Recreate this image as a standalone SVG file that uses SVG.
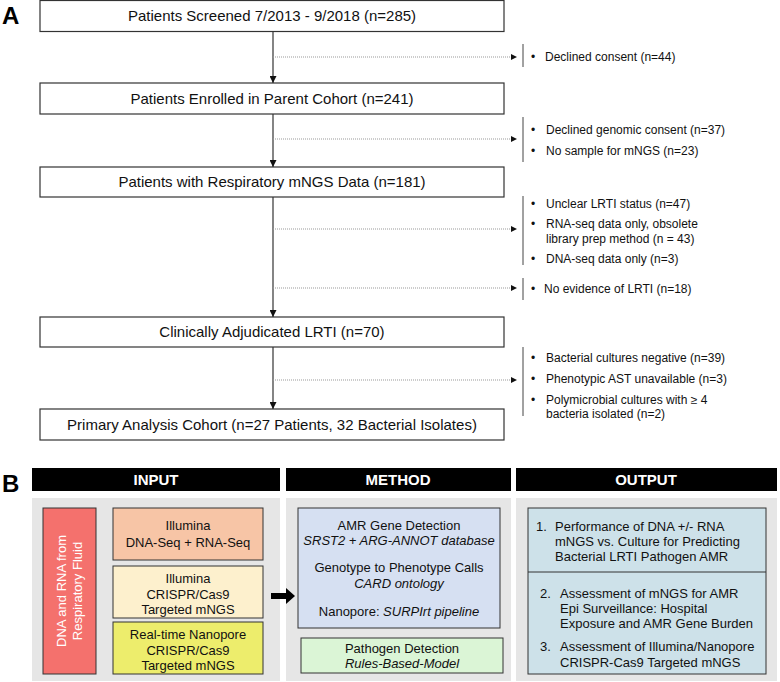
<svg xmlns="http://www.w3.org/2000/svg" width="780" height="682" viewBox="0 0 780 682">
<defs>
<style>
.box{fill:#fff;stroke:#333;stroke-width:1.2}
.bt{font-family:"Liberation Sans",Arial,sans-serif;font-size:15px;fill:#111;text-anchor:middle}
.ex{font-family:"Liberation Sans",Arial,sans-serif;font-size:12px;fill:#111}
.vline{stroke:#333;stroke-width:1.2;fill:none}
.dot{stroke:#999;stroke-width:1;stroke-dasharray:1,1;fill:none}
.bar{stroke:#444;stroke-width:1;fill:none}
.lbl{font-family:"Liberation Sans",Arial,sans-serif;font-size:24px;font-weight:bold;fill:#000}
.hdr{fill:#000}
.ht{font-family:"Liberation Sans",Arial,sans-serif;font-size:15px;font-weight:bold;fill:#fff;text-anchor:middle}
.gp{fill:#e6e6e6}
.ib{stroke:#333;stroke-width:1}
.it{font-family:"Liberation Sans",Arial,sans-serif;font-size:13px;fill:#111;text-anchor:middle}
.ot{font-family:"Liberation Sans",Arial,sans-serif;font-size:13px;fill:#111}
.i{font-style:italic}
</style>
<marker id="ah" viewBox="0 0 10 10" refX="10" refY="5" markerWidth="7" markerHeight="7" markerUnits="userSpaceOnUse" orient="auto">
<path d="M0,0 L10,5 L0,10 Z" fill="#111"/>
</marker>
</defs>

<text class="lbl" x="2" y="24">A</text>

<g id="n1">
<rect class="box" x="40" y="0.5" width="464" height="31"/>
<text class="bt" x="272" y="21">Patients Screened 7/2013 - 9/2018 (n=285)</text>
</g>
<g id="n2">
<rect class="box" x="40" y="83" width="464" height="31"/>
<text class="bt" x="272" y="104">Patients Enrolled in Parent Cohort (n=241)</text>
</g>
<g id="n3">
<rect class="box" x="40" y="167" width="464" height="30"/>
<text class="bt" x="272" y="187">Patients with Respiratory mNGS Data (n=181)</text>
</g>
<g id="n4">
<rect class="box" x="40" y="317" width="464" height="30"/>
<text class="bt" x="272" y="337">Clinically Adjudicated LRTI (n=70)</text>
</g>
<g id="n5">
<rect class="box" x="40" y="409" width="464" height="31"/>
<text class="bt" x="272" y="430">Primary Analysis Cohort (n=27 Patients, 32 Bacterial Isolates)</text>
</g>

<g id="ex1">
<line class="bar" x1="523" y1="44" x2="523" y2="67"/>
<text class="ex" x="531" y="61">•</text>
<text class="ex" x="545" y="61">Declined consent (n=44)</text>
</g>
<g id="ex2">
<line class="bar" x1="523" y1="117" x2="523" y2="162"/>
<text class="ex" x="531" y="134">•</text>
<text class="ex" x="546" y="134">Declined genomic consent (n=37)</text>
<text class="ex" x="531" y="155">•</text>
<text class="ex" x="546" y="155">No sample for mNGS (n=23)</text>
</g>
<g id="ex3">
<line class="bar" x1="523" y1="196" x2="523" y2="265"/>
<text class="ex" x="531" y="208">•</text>
<text class="ex" x="546" y="208">Unclear LRTI status (n=47)</text>
<text class="ex" x="531" y="228">•</text>
<text class="ex" x="546" y="228">RNA-seq data only, obsolete</text>
<text class="ex" x="546" y="243">library prep method (n = 43)</text>
<text class="ex" x="531" y="263">•</text>
<text class="ex" x="546" y="263">DNA-seq data only (n=3)</text>
</g>
<g id="ex4">
<line class="bar" x1="523" y1="278" x2="523" y2="300"/>
<text class="ex" x="531" y="293">•</text>
<text class="ex" x="544" y="293">No evidence of LRTI (n=18)</text>
</g>
<g id="ex5">
<line class="bar" x1="523" y1="347" x2="523" y2="416"/>
<text class="ex" x="531" y="362">•</text>
<text class="ex" x="546" y="362">Bacterial cultures negative (n=39)</text>
<text class="ex" x="531" y="383">•</text>
<text class="ex" x="546" y="383">Phenotypic AST unavailable (n=3)</text>
<text class="ex" x="531" y="404">•</text>
<text class="ex" x="546" y="404">Polymicrobial cultures with ≥ 4</text>
<text class="ex" x="546" y="418">bacteria isolated (n=2)</text>
</g>

<text class="lbl" x="2" y="492">B</text>

<g id="input">
<rect class="hdr" x="32" y="468" width="248" height="23"/>
<text class="ht" x="156" y="485">INPUT</text>
<rect class="gp" x="32" y="498" width="248" height="183"/>
</g>
<g id="method">
<rect class="hdr" x="286" y="468" width="225" height="23"/>
<text class="ht" x="398" y="485">METHOD</text>
<rect class="gp" x="286" y="498" width="225" height="183"/>
</g>
<g id="output">
<rect class="hdr" x="516" y="468" width="261" height="23"/>
<text class="ht" x="646" y="485">OUTPUT</text>
<rect class="gp" x="516" y="498" width="261" height="183"/>
</g>

<g id="fluid">
<rect class="ib" x="43" y="508" width="53" height="166" fill="#f4716d"/>
<g transform="translate(66,591) rotate(-90)">
<text class="it" x="0" y="0" style="fill:#fff">DNA and RNA from</text>
<text class="it" x="0" y="16" style="fill:#fff">Respiratory Fluid</text>
</g>
</g>
<g id="illumina">
<rect class="ib" x="113" y="508" width="150" height="52" fill="#f7c5a6"/>
<text class="it" x="188" y="530">Illumina</text>
<text class="it" x="188" y="547">DNA-Seq + RNA-Seq</text>
</g>
<g id="crispr">
<rect class="ib" x="113" y="566" width="150" height="52" fill="#fdf0cd"/>
<text class="it" x="188" y="583">Illumina</text>
<text class="it" x="188" y="599">CRISPR/Cas9</text>
<text class="it" x="188" y="614">Targeted mNGS</text>
</g>
<g id="nanopore">
<rect class="ib" x="113" y="622" width="150" height="52" fill="#eded6c"/>
<text class="it" x="188" y="639">Real-time Nanopore</text>
<text class="it" x="188" y="655">CRISPR/Cas9</text>
<text class="it" x="188" y="670">Targeted mNGS</text>
</g>
<g id="amr">
<rect class="ib" x="298" y="508" width="202" height="120" fill="#d6e0f2"/>
<text class="it" x="399" y="530">AMR Gene Detection</text>
<text class="it i" x="399" y="545">SRST2 + ARG-ANNOT database</text>
<text class="it" x="399" y="572">Genotype to Phenotype Calls</text>
<text class="it i" x="399" y="588">CARD ontology</text>
<text class="it" x="399" y="616">Nanopore: <tspan class="i">SURPIrt pipeline</tspan></text>
</g>
<g id="pathogen">
<rect class="ib" x="301" y="638" width="202" height="35" fill="#dbf5d6"/>
<text class="it" x="402" y="653">Pathogen Detection</text>
<text class="it i" x="402" y="668">Rules-Based-Model</text>
</g>
<g id="outbox">
<rect class="ib" x="528" y="508" width="238" height="166" fill="#cde1e9"/>
<line class="ib" x1="528" y1="572" x2="766" y2="572"/>
<text class="ot" x="536" y="531">1.</text>
<text class="ot" x="555" y="531">Performance of DNA +/- RNA</text>
<text class="ot" x="555" y="546">mNGS vs. Culture for Predicting</text>
<text class="ot" x="555" y="561">Bacterial LRTI Pathogen AMR</text>
<text class="ot" x="540" y="598">2.</text>
<text class="ot" x="560" y="598">Assessment of mNGS for AMR</text>
<text class="ot" x="560" y="613">Epi Surveillance: Hospital</text>
<text class="ot" x="560" y="628">Exposure and AMR Gene Burden</text>
<text class="ot" x="540" y="651">3.</text>
<text class="ot" x="560" y="651">Assessment of Illumina/Nanopore</text>
<text class="ot" x="560" y="667">CRISPR-Cas9 Targeted mNGS</text>
</g>

<g id="connectors">
<line class="vline" x1="273" y1="31" x2="273" y2="83" marker-end="url(#ah)"/>
<line class="vline" x1="273" y1="114" x2="273" y2="167" marker-end="url(#ah)"/>
<line class="vline" x1="273" y1="197" x2="273" y2="317" marker-end="url(#ah)"/>
<line class="vline" x1="273" y1="347" x2="273" y2="409" marker-end="url(#ah)"/>
<line class="dot" x1="273" y1="57" x2="510" y2="57"/>
<path d="M511,54 L517,57 L511,60 Z" fill="#111"/>
<line class="dot" x1="273" y1="139" x2="510" y2="139"/>
<path d="M511,136 L517,139 L511,142 Z" fill="#111"/>
<line class="dot" x1="273" y1="229" x2="510" y2="229"/>
<path d="M511,226 L517,229 L511,232 Z" fill="#111"/>
<line class="dot" x1="273" y1="288" x2="510" y2="288"/>
<path d="M511,285 L517,288 L511,291 Z" fill="#111"/>
<line class="dot" x1="273" y1="380" x2="510" y2="380"/>
<path d="M511,377 L517,380 L511,383 Z" fill="#111"/>
<path d="M271,593 L286,593 L286,588 L295,596 L286,604 L286,599 L271,599 Z" fill="#000"/>
</g>
</svg>
